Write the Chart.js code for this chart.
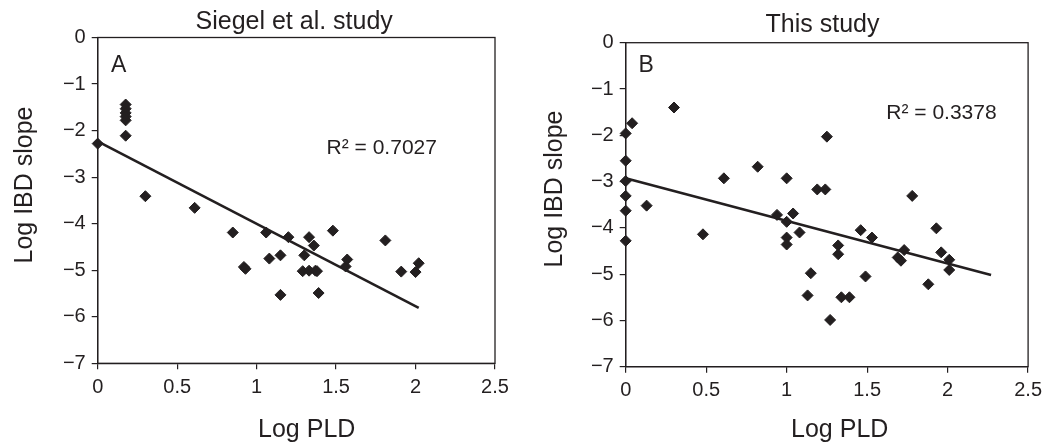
<!DOCTYPE html>
<html>
<head>
<meta charset="utf-8">
<script src="https://cdn.jsdelivr.net/npm/chart.js@4"></script>
<style>
  body { margin: 0; background: #fff; }
  #wrap { position: relative; width: 1048px; height: 443px; }
  canvas { position: absolute; top: 0; }
</style>
</head>
<body>
<div id="wrap">
  <canvas id="chartA" width="528" height="443" style="left:0px"></canvas>
  <canvas id="chartB" width="520" height="443" style="left:528px"></canvas>
</div>
<script>
// ---- data (Log PLD vs Log IBD slope) ----
var siegelX = [0, 0.176, 0.176, 0.176, 0.176, 0.176, 0.176, 0.30, 0.61, 0.85, 0.92, 0.93,
  1.06, 1.08, 1.15, 1.15, 1.20, 1.30, 1.29, 1.33, 1.33, 1.36, 1.37, 1.38, 1.39,
  1.48, 1.56, 1.57, 1.81, 1.91, 2.00, 2.02]
var siegelY = [-2.28, -1.44, -1.53, -1.62, -1.70, -1.78, -2.11, -3.41, -3.66, -4.19, -4.93, -4.97,
  -4.19, -4.75, -4.68, -5.53, -4.29, -4.68, -5.02, -4.29, -5.01, -4.47, -5.01, -5.02, -5.49,
  -4.15, -4.92, -4.77, -4.36, -5.03, -5.04, -4.85]
var siegelFitX = [0, 2.02]
var siegelFitY = [-2.23, -5.81]

var thisX = [0, 0, 0, 0, 0, 0, 0.04, 0.13, 0.30, 0.48, 0.61, 0.82, 0.94,
  1.00, 1.00, 1.00, 1.00, 1.04, 1.08, 1.13, 1.15, 1.19, 1.24, 1.25, 1.27,
  1.32, 1.32, 1.34, 1.39, 1.46, 1.49, 1.53, 1.69, 1.71, 1.73, 1.78,
  1.88, 1.93, 1.96, 2.01, 2.01]
var thisY = [-1.96, -2.55, -2.99, -3.31, -3.63, -4.28, -1.74, -3.52, -1.40, -4.14, -2.93, -2.68, -3.72,
  -2.93, -3.87, -4.21, -4.36, -3.69, -4.10, -5.46, -4.98, -3.17, -3.17, -2.03, -5.99,
  -4.38, -4.57, -5.50, -5.50, -4.05, -5.05, -4.21, -4.64, -4.71, -4.48, -3.31,
  -5.22, -4.01, -4.53, -4.69, -4.91]
var thisFitX = [0, 2.27]
var thisFitY = [-2.93, -5.02]

var xTicks = [0, 0.5, 1, 1.5, 2, 2.5]
var yTicks = [0, -1, -2, -3, -4, -5, -6, -7]
var panelTitles = ['Siegel et al. study', 'This study']
var panelLetters = ['A', 'B']
var r2Labels = ['R\u00b2 = 0.7027', 'R\u00b2 = 0.3378']
var xTitle = 'Log PLD'
var yTitle = 'Log IBD slope'

// ---- style ----
var ink = '#231f20'
var fontFam = '"Liberation Sans", Arial, Helvetica, sans-serif'
Chart.defaults.font.family = fontFam
Chart.defaults.color = ink

function pairs(xs, ys) {
    return xs.map(function (x, i) { return { x: x, y: ys[i] } })
}
function minusSign(v) {
    return String(v).replace('-', '\u2212') // typographic minus
}

// frame round the plot, then the texts (title, axis titles, letter, R2)
var framePlugin = {
    id: 'frame',
    beforeDatasetsDraw: function (chart) {
        var a = chart.chartArea, ctx = chart.ctx
        ctx.save()
        ctx.strokeStyle = ink
        ctx.lineWidth = 1.3
        ctx.strokeRect(a.left, a.top, a.right - a.left, a.bottom - a.top)
        ctx.restore()
    },
    afterDraw: function (chart) {
        var o = chart.options.plugins.frame, ctx = chart.ctx
        ctx.save()
        ctx.fillStyle = ink
        ctx.textBaseline = 'alphabetic'
        ctx.font = '25px ' + fontFam
        ctx.textAlign = 'center'
        ctx.fillText(o.title, o.titleX, o.titleY)
        ctx.fillText(xTitle, o.xTitleX, o.xTitleY)
        ctx.save()
        ctx.translate(o.yTitleX, o.yTitleY)
        ctx.rotate(-Math.PI / 2)
        ctx.fillText(yTitle, 0, 0)
        ctx.restore()
        ctx.textAlign = 'left'
        ctx.font = '23px ' + fontFam
        ctx.fillText(o.letter, o.letterX, o.letterY)
        ctx.font = '21px ' + fontFam
        ctx.fillText(o.r2, o.r2X, o.r2Y)
        ctx.restore()
    }
}

function makeChart(id, i, xs, ys, fitX, fitY, lay) {
    return new Chart(document.getElementById(id), {
        type: 'scatter',
        data: {
            datasets: [{
                data: pairs(xs, ys),
                pointStyle: 'rectRot',
                pointRadius: 5.5,
                pointBorderWidth: 1,
                backgroundColor: ink,
                borderColor: ink,
                clip: false
            }, {
                type: 'line',
                data: pairs(fitX, fitY),
                borderColor: ink,
                borderWidth: 2.6,
                pointRadius: 0,
                fill: false,
                clip: false
            }]
        },
        options: {
            responsive: false,
            animation: false,
            events: [],
            layout: { padding: { left: 0, right: lay.padRight, top: lay.padTop, bottom: 0 } },
            plugins: {
                legend: { display: false },
                tooltip: { enabled: false },
                title: { display: false },
                frame: Object.assign({ title: panelTitles[i], letter: panelLetters[i], r2: r2Labels[i] }, lay.text)
            },
            scales: {
                x: {
                    type: 'linear',
                    min: 0,
                    max: 2.5,
                    afterBuildTicks: function (s) { s.ticks = xTicks.map(function (v) { return { value: v } }) },
                    afterFit: function (s) { s.height = lay.xHeight },
                    grid: { display: true, drawOnChartArea: false, drawTicks: true, tickLength: 6, color: ink, lineWidth: 1.2 },
                    border: { display: true, color: ink, width: 1.3 },
                    ticks: { font: { size: 20 }, color: ink, padding: 6, maxRotation: 0, callback: minusSign },
                    title: { display: false }
                },
                y: {
                    type: 'linear',
                    min: -7,
                    max: 0,
                    afterBuildTicks: function (s) { s.ticks = yTicks.map(function (v) { return { value: v } }) },
                    afterFit: function (s) { s.width = lay.yWidth },
                    grid: { display: true, drawOnChartArea: false, drawTicks: true, tickLength: 6, color: ink, lineWidth: 1.2 },
                    border: { display: true, color: ink, width: 1.3 },
                    ticks: { font: { size: 20 }, color: ink, padding: 6, callback: minusSign },
                    title: { display: false }
                }
            }
        },
        plugins: [framePlugin]
    })
}

makeChart('chartA', 0, siegelX, siegelY, siegelFitX, siegelFitY, {
    padRight: 33, padTop: 37.5, yWidth: 97.7, xHeight: 79.7,
    text: { titleX: 294.2, titleY: 29.3, xTitleX: 306.7, xTitleY: 436.5, yTitleX: 32, yTitleY: 185,
        letterX: 111, letterY: 71.7, r2X: 326.6, r2Y: 154 }
})
makeChart('chartB', 1, thisX, thisY, thisFitX, thisFitY, {
    padRight: 16.7, padTop: 42.7, yWidth: 97.7, xHeight: 76.3,
    text: { titleX: 294.5, titleY: 32.3, xTitleX: 311.7, xTitleY: 436.7, yTitleX: 33.5, yTitleY: 189,
        letterX: 110.5, letterY: 71.7, r2X: 358.3, r2Y: 118.5 }
})
</script>
</body>
</html>
